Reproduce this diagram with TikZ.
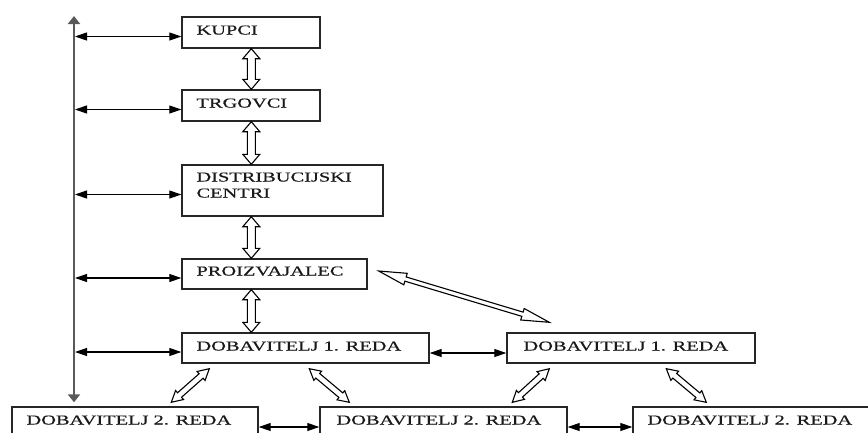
\documentclass[tikz,border=0pt]{standalone}
\usepackage{fontspec}
\newfontfamily\boxfont[FakeStretch=1.5,FakeBold=0.4]{Liberation Serif}
\usetikzlibrary{arrows.meta,calc}
\tikzset{
  box/.style={draw=black!85, line width=1.4pt, inner sep=0pt, fill=white},
  lbl/.style={anchor=north west, inner sep=0pt, xshift=15pt, yshift=-9pt,
    font=\boxfont\fontsize{13.6pt}{16pt}\selectfont, align=left, text=black!90},
  thinarrow/.style={line width=1.1pt, black,
    {Triangle[length=12pt,width=8pt]}-{Triangle[length=12pt,width=8pt]}},
  vline/.style={line width=2.2pt, black!65,
    {Triangle[length=8pt,width=12pt]}-{Triangle[length=8pt,width=12pt]}},
  hollow/.style n args={3}{draw=black, fill=white, line width=1.1pt, line join=miter,
    to path={
      let \p1=(\tikztostart), \p2=(\tikztotarget),
          \n1={atan2(\y2-\y1,\x2-\x1)}, \n2={veclen(\x2-\x1,\y2-\y1)} in
      {[shift={(\p1)}, rotate=\n1]
        (0,0) -- (#3,#1) -- (#3,#2) -- ({\n2-#3},#2) -- ({\n2-#3},#1) -- (\n2,0)
        -- ({\n2-#3},-#1) -- ({\n2-#3},-#2) -- (#3,-#2) -- (#3,-#1) -- cycle}
    }},
}
\begin{document}
\begin{tikzpicture}[x=1pt, y=-1pt]
\useasboundingbox[fill=white] (0,0) rectangle (868,432);

% boxes
\node[box, minimum width=138pt, minimum height=31pt, label={[lbl]north west:KUPCI}] (k) at (251,32.5) {};
\node[box, minimum width=138pt, minimum height=31pt, label={[lbl]north west:TRGOVCI}] (t) at (251,105.5) {};
\node[box, minimum width=201pt, minimum height=51pt, label={[lbl, yshift=1pt]north west:DISTRIBUCIJSKI\\CENTRI}] (dc) at (282.5,190.5) {};
\node[box, minimum width=185pt, minimum height=30pt, label={[lbl, yshift=1pt]north west:PROIZVAJALEC}] (p) at (274.5,274) {};
\node[box, minimum width=247pt, minimum height=30pt, label={[lbl]north west:DOBAVITELJ 1. REDA}] (d1a) at (305.5,348) {};
\node[box, minimum width=248pt, minimum height=30pt, label={[lbl, xshift=2pt]north west:DOBAVITELJ 1. REDA}] (d1b) at (631,348) {};
\node[box, minimum width=246pt, minimum height=40pt, label={[lbl]north west:DOBAVITELJ 2. REDA}] (d2a) at (135,427) {};
\node[box, minimum width=247pt, minimum height=40pt, label={[lbl, xshift=2pt]north west:DOBAVITELJ 2. REDA}] (d2b) at (443.5,427) {};
\node[box, minimum width=247pt, minimum height=40pt, label={[lbl]north west:DOBAVITELJ 2. REDA}] (d2c) at (756.5,427) {};

% vertical line
\coordinate (vtop) at (74,16);
\draw[vline, shorten >=4pt] (vtop) -- (vtop |- d2a.north);

% horizontal arrows from the line
\foreach \b in {k,t,dc,p,d1a}{
  \draw[thinarrow] ($(vtop |- \b.west)+(1,4)$) -- ($(\b.west)+(0,4)$);
}
\draw[thinarrow] ($(d1a.east)+(0,5)$) -- ($(d1b.west)+(0,5)$);
\draw[thinarrow] (d2a.east) -- (d2b.west);
\draw[thinarrow] (d2b.east) -- (d2c.west);

% hollow vertical arrows
\draw[hollow={8.5}{4}{10}] ($(k.south west)+(70,0)$) to ($(t.north west)+(70,0)$);
\draw[hollow={8.5}{4}{10}] ($(t.south west)+(70,0)$) to ($(dc.north west)+(70,0)$);
\draw[hollow={8.5}{4}{10}] ($(dc.south west)+(70,0)$) to ($(p.north west)+(70,0)$);
\draw[hollow={8.5}{4}{10}] ($(p.south west)+(70,0)$) to ($(d1a.north west)+(70,0)$);

% big diagonal
\draw[hollow={6}{2.2}{28}] ($(p.east)+(11,-3)$) to ($(d1b.north west)+(43,-10)$);

% small diagonals
\draw[hollow={6}{3}{11}] ($(d1a.south west)+(28,5)$) to ($(d2a.north west)+(160,-4)$);
\draw[hollow={6}{3}{11}] ($(d1a.south west)+(128,5)$) to ($(d2b.north west)+(30,-4)$);
\draw[hollow={6}{3}{11}] ($(d1b.south west)+(43,5)$) to ($(d2b.north west)+(193,-4)$);
\draw[hollow={6}{3}{11}] ($(d1b.south west)+(160,5)$) to ($(d2c.north west)+(74,-4)$);
\end{tikzpicture}
\end{document}
